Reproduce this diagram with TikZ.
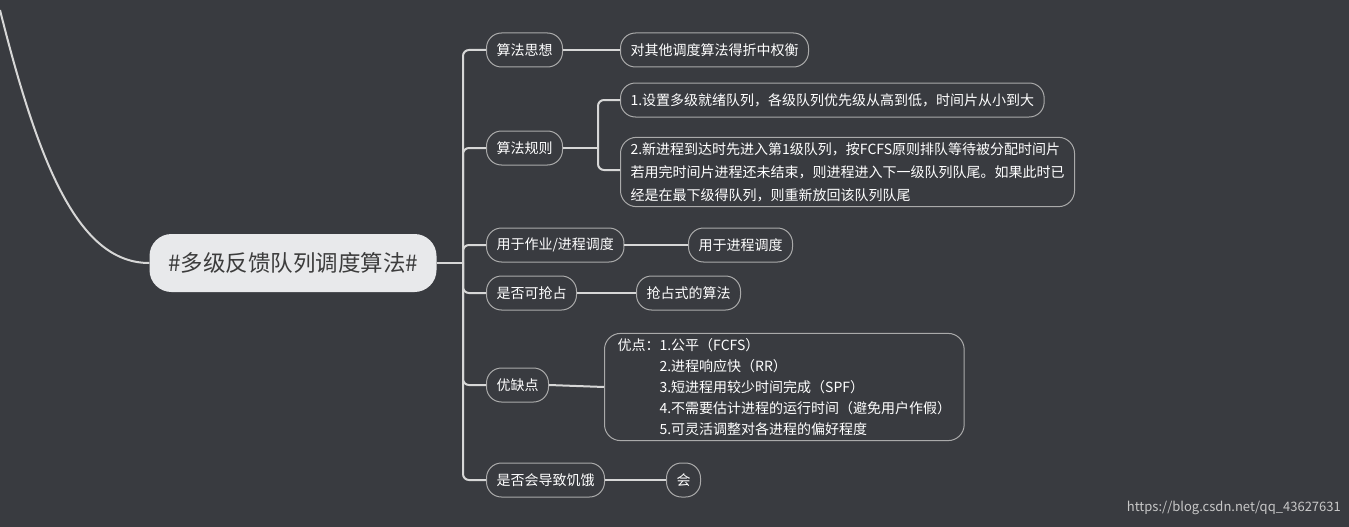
\documentclass[tikz,border=0pt]{standalone}
\usepackage{fontspec}
\setmainfont{Noto Sans CJK SC}
\begin{document}
\begin{tikzpicture}[x=1pt,y=-1pt,
  bg/.style={fill={rgb,255:red,57;green,59;blue,64}},
  ln/.style={draw={rgb,255:red,215;green,215;blue,215},line width=2pt},
  box/.style={draw={rgb,255:red,170;green,170;blue,170},line width=1pt,rounded corners=15pt,minimum height=34pt,inner xsep=10pt,text=white,font=\fontsize{14}{21}\selectfont,anchor=west},
  big/.style={box,align=left,rounded corners=16pt,inner ysep=5pt}]
\fill[bg] (0,0) rectangle (1349,527);
\useasboundingbox (0,0) rectangle (1349,527);
\node[fill={rgb,255:red,232;green,233;blue,235},rounded corners=22pt,minimum width=287pt,minimum height=58pt,text={rgb,255:red,60;green,60;blue,60},font=\fontsize{22.5}{26}\selectfont] (root) at (293,263) {\#多级反馈队列调度算法\#};
\coordinate (top) at (0,10);
\draw[ln] (top) .. controls (40,170) and (80,263) .. (root.west);
\node[box] (a1) at (486,50) {算法思想};
\node[box] (a2) at (486,148) {算法规则};
\node[box] (a3) at (486,245) {用于作业/进程调度};
\node[box] (a4) at (486,293) {是否可抢占};
\node[box] (a5) at (486,385) {优缺点};
\node[box] (a6) at (486,480) {是否会导致饥饿};
\node[box] (b1) at (620,50) {对其他调度算法得折中权衡};
\node[box] (b2) at (620,100) {1.设置多级就绪队列，各级队列优先级从高到低，时间片从小到大};
\node[big,font=\fontsize{14}{23}\selectfont] (b3) at (620,172) {2.新进程到达时先进入第1级队列，按FCFS原则排队等待被分配时间片\\若用完时间片进程还未结束，则进程进入下一级队列队尾。如果此时已\\经是在最下级得队列，则重新放回该队列队尾};
\node[box] (b4) at (688,245) {用于进程调度};
\node[box] (b5) at (636,293) {抢占式的算法};
\node[big,inner xsep=13pt] (b6) at (604,387) {优点：1.公平（FCFS）\\\phantom{优点：}2.进程响应快（RR）\\\phantom{优点：}3.短进程用较少时间完成（SPF）\\\phantom{优点：}4.不需要估计进程的运行时间（避免用户作假）\\\phantom{优点：}5.可灵活调整对各进程的偏好程度};
\node[box] (b7) at (666,480) {会};
\node[anchor=east,text={rgb,255:red,200;green,200;blue,200},font=\fontsize{13}{15}\selectfont,inner sep=0pt] (wm) at (1341,508) {https://blog.csdn.net/qq\_43627631};
\coordinate (t) at (463,263);
\draw[ln] (root.east) -- (t);
\foreach \n in {a1,a2,a3,a4,a5,a6}{\draw[ln,rounded corners=6pt] (t) |- (\n.west);}
\draw[ln] (a1) -- (b1);
\coordinate (s) at (598,148);
\draw[ln] (a2) -- (s);
\draw[ln,rounded corners=6pt] (s) |- (b2.west);
\draw[ln,rounded corners=6pt] (s) |- (620,170);
\draw[ln] (a3) -- (b4);
\draw[ln] (a4) -- (b5);
\draw[ln] (a5.east) -- (b6.west);
\draw[ln] (a6) -- (b7);
\end{tikzpicture}
\end{document}
